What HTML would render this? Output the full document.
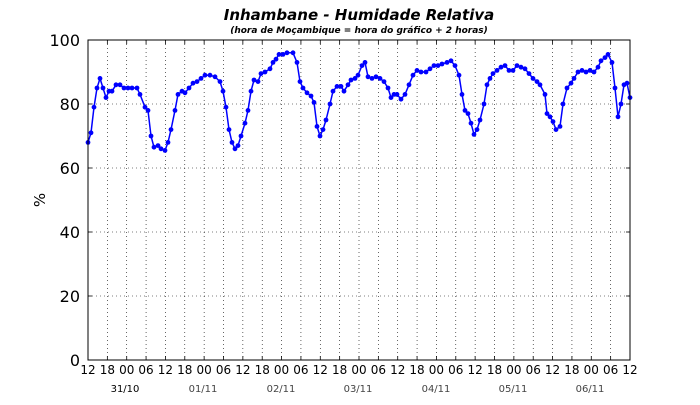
<!DOCTYPE html>
<html><head><meta charset="utf-8"><style>
body{margin:0;background:#fff;width:700px;height:400px;overflow:hidden}
text{font-family:"DejaVu Sans","Liberation Sans",sans-serif}
</style></head><body>
<svg id="s" width="700" height="400" xmlns="http://www.w3.org/2000/svg">
<text x="359" y="20" text-anchor="middle" font-size="15" font-weight="bold" font-style="italic">Inhambane - Humidade Relativa</text>
<text x="359" y="33" text-anchor="middle" font-size="9" font-weight="bold" font-style="italic">(hora de Moçambique = hora do gráfico + 2 horas)</text>
<text x="45" y="200" text-anchor="middle" font-size="15" transform="rotate(-90 45 200)">%</text>
<g id="g"></g>
</svg>
<script>
var ns="http://www.w3.org/2000/svg",g=document.getElementById('g');
function el(t,a,txt){var e=document.createElementNS(ns,t);for(var k in a)e.setAttribute(k,a[k]);if(txt!=null)e.textContent=txt;g.appendChild(e);return e;}
var L=88,R=630,T=40,B=360;
function Y(v){return B-(v/100)*(B-T);}
var labs=["12","18","00","06"];
for(var i=0;i<=28;i++){var x=L+i*(R-L)/28;
 if(i>0&&i<28)el('line',{x1:x,y1:T,x2:x,y2:B,stroke:'#000','stroke-width':0.6,'stroke-dasharray':'1,3'});
 el('line',{x1:x,y1:B,x2:x,y2:B-4,stroke:'#000','stroke-width':0.8});
 el('line',{x1:x,y1:T,x2:x,y2:T+4,stroke:'#000','stroke-width':0.8});
 el('text',{x:x,y:374,'text-anchor':'middle','font-size':12},labs[i%4]);}
for(var v=0;v<=100;v+=20){var y=Y(v);
 if(v>0&&v<100)el('line',{x1:L,y1:y,x2:R,y2:y,stroke:'#000','stroke-width':0.6,'stroke-dasharray':'1,3'});
 el('line',{x1:L,y1:y,x2:L+4,y2:y,stroke:'#000','stroke-width':0.8});
 el('line',{x1:R,y1:y,x2:R-4,y2:y,stroke:'#000','stroke-width':0.8});
 el('text',{x:80,y:y+6,'text-anchor':'end','font-size':16},v);}
var d=[["31/10",125,"#000"],["01/11",203,"#444"],["02/11",281,"#444"],["03/11",358,"#444"],["04/11",436,"#444"],["05/11",513,"#444"],["06/11",590,"#444"]];
d.forEach(function(a){el('text',{x:a[1],y:392,'text-anchor':'middle','font-size':10,fill:a[2]},a[0]);});
var k=[88,68,91,71,94,79,97,85,100,88,103,85,106,82,109,84,112,84,116,86,120,86,124,85,128,85,132,85,137,85,140,83,145,79,148,78,151,70,154,66.5,158,67,161,66,165,65.5,168,68,171,72,175,78,178,83,182,84,185,83.5,189,85,193,86.5,197,87,201,88,205,89,210,89,215,88.5,220,87,223,84,226,79,229,72,232,68,235,66,238,67,241,70,245,74,248,78,251,84,254,87.5,258,87,261,89.5,265,90,270,91,273,93,276,94,279,95.5,283,95.5,287,96,293,96,297,93,300,87,303,85,307,83.5,311,82.5,314,80.5,317,73,320,70,323,72,326,75,330,80,333,84,337,85.5,341,85.5,344,84,348,86,351,87.5,355,88,358,89,362,92,365,93,368,88.5,372,88,376,88.5,380,88,384,87,388,85,391,82,394,83,397,83,401,81.5,405,83,409,86,413,89,417,90.5,421,90,426,90,430,91,434,92,438,92,442,92.5,447,93,451,93.5,455,92,459,89,462,83,465,78,468,77,471,74,474,70.5,477,72,480,75,484,80,487,86,490,88,493,89.5,497,90.5,501,91.5,505,92,509,90.5,513,90.5,517,92,521,91.5,525,91,529,89.5,533,88,537,87,540,86,545,83,547,77,550,76,553,74.5,556,72,560,73,563,80,567,85,571,86.5,574,88,578,90,582,90.5,586,90,590,90.5,594,90,598,91.5,601,93.5,605,94.5,608,95.5,612,93,615,85,618,76,621,80,624,86,627,86.5,630,82];
var pts=[];for(var i=0;i<k.length;i+=2)pts.push(k[i]+','+Y(k[i+1]).toFixed(1));
el('polyline',{points:pts.join(' '),fill:'none',stroke:'#0000ff','stroke-width':1.5});
for(var i=0;i<k.length;i+=2)el('circle',{cx:k[i],cy:Y(k[i+1]),r:2.4,fill:'#0000ff'});
el('rect',{x:L,y:T,width:R-L,height:B-T,fill:'none',stroke:'#000','stroke-width':1});
</script>
</body></html>
